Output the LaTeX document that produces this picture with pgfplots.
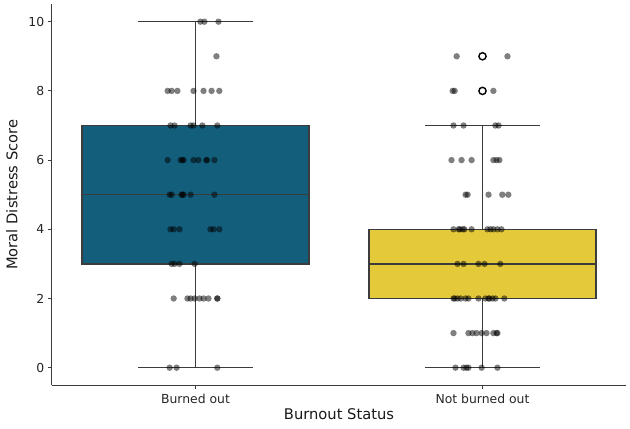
\documentclass[border=0pt]{standalone}
\usepackage{pgfplots}
\pgfplotsset{compat=1.18}
\usepgfplotslibrary{statistics}
\usepackage{fontspec}
\setmainfont{DejaVu Sans}
\definecolor{boxteal}{RGB}{19,94,123}
\definecolor{yel}{RGB}{228,201,59}
\definecolor{edge}{RGB}{60,60,60}
\begin{document}
\begin{tikzpicture}
\useasboundingbox (-52bp,-44bp) rectangle (578bp,385bp);
\begin{axis}[
  at={(0,0)}, anchor=south west,
  scale only axis, width=574bp, height=380.6bp,
  xmin=-0.5, xmax=1.5, ymin=-0.5, ymax=10.5,
  boxplot/draw direction=y,
  axis lines=left, axis line style={-, line width=1bp, draw=edge},
  xtick={0,1}, xticklabels={Burned out, Not burned out},
  ytick={0,2,4,6,8,10},
  tick align=outside, major tick length=4.3bp,
  tick style={line width=1bp, draw=edge},
  /pgf/number format/assume math mode=true,
  tick label style={font=\fontsize{12.4bp}{14bp}\selectfont, text=black!85},
  label style={font=\fontsize{14.7bp}{17bp}\selectfont, text=black!90},
  xlabel={Burnout Status}, ylabel={Moral Distress Score},
  xlabel style={at={(axis description cs:0.5,0)}, anchor=north, yshift=-20bp},
  ylabel style={at={(axis description cs:0,0.5)}, anchor=south, xshift=0bp, yshift=31bp},
  xticklabel style={yshift=-1bp},
  clip=false,
]
\addplot+[boxplot prepared={median=5, upper quartile=7, lower quartile=3,
  upper whisker=10, lower whisker=0, draw position=0, box extend=0.79,
  whisker extend=0.4}, fill=boxteal, draw=edge, line width=1.5bp, solid, mark=none] coordinates {};
\addplot+[boxplot prepared={median=3, upper quartile=4, lower quartile=2,
  upper whisker=7, lower whisker=0, draw position=1, box extend=0.79,
  whisker extend=0.4}, fill=yel, draw=edge, line width=1.5bp, solid, mark=none] coordinates {};
% fliers
\addplot[only marks, mark=o, mark size=3.6bp, mark options={solid, draw=black, line width=1.4bp, fill=none}] coordinates {(1,8) (1,9)};
% strip points
\addplot[only marks, mark=*, mark size=3.2bp, mark options={solid, draw=black, draw opacity=0, line width=0pt, fill=black, fill opacity=0.5}] table {
x y
0.017 10
0.031 10
0.080 10
0.073 9
-0.097 8
-0.083 8
-0.063 8
-0.007 8
0.028 8
0.056 8
0.083 8
-0.087 7
-0.073 7
-0.017 7
-0.007 7
0.024 7
0.076 7
-0.097 6
-0.052 6
-0.042 6
-0.045 6
-0.007 6
0.010 6
0.038 6
0.040 6
0.066 6
-0.090 5
-0.083 5
-0.049 5
-0.042 5
-0.045 5
-0.017 5
0.066 5
-0.087 4
-0.076 4
-0.056 4
0.052 4
0.063 4
0.083 4
-0.083 3
-0.073 3
-0.056 3
-0.003 3
-0.076 2
-0.028 2
-0.017 2
-0.003 2
0.014 2
0.028 2
0.045 2
0.076 2
0.076 2
-0.090 0
-0.066 0
0.076 0
0.910 9
1.087 9
0.896 8
0.903 8
1.038 8
0.899 7
0.934 7
1.045 7
1.056 7
0.892 6
0.927 6
0.962 6
1.038 6
1.049 6
1.059 6
0.941 5
0.948 5
1.021 5
1.069 5
1.090 5
0.899 4
0.917 4
0.921 4
0.931 4
0.937 4
0.962 4
1.017 4
1.028 4
1.038 4
1.052 4
1.066 4
0.913 3
0.934 3
0.986 3
1.007 3
1.062 3
0.899 2
0.903 2
0.913 2
0.924 2
0.941 2
0.951 2
0.986 2
1.010 2
1.021 2
1.024 2
1.035 2
1.045 2
1.076 2
0.899 1
0.951 1
0.965 1
0.979 1
0.997 1
1.014 1
1.038 1
1.049 1
1.052 1
0.906 0
0.934 0
0.944 0
0.951 0
0.997 0
1.052 0
};
\end{axis}
\end{tikzpicture}
\end{document}
